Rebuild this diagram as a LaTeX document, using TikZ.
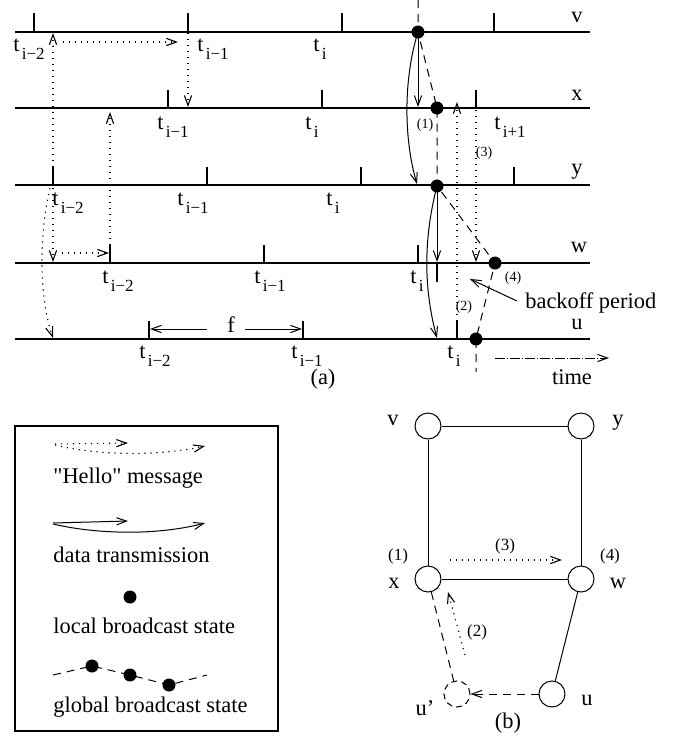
\documentclass[tikz,border=0pt]{standalone}
\usepackage{fontspec}
\setmainfont{Liberation Serif}[Ligatures=TeXOff]
\usetikzlibrary{arrows.meta}
\newcommand\tlab[1]{t\kern1.2pt\raisebox{-0.75ex}{\fontsize{8.5}{9}\selectfont #1}}
\begin{document}
\begin{tikzpicture}[x=0.5pt,y=-0.5pt,
  every node/.style={font=\fontsize{11.2}{13}\selectfont, inner sep=0pt},
  tline/.style={line width=0.6pt},
  tickln/.style={line width=0.6pt},
  tip/.style={-{Straight Barb[length=5pt,width=3.6pt]}},
  hello/.style={line width=0.55pt, dash pattern=on 0.6pt off 2.4pt, tip},
  data/.style={line width=0.5pt, tip},
  glob/.style={line width=0.5pt, dash pattern=on 4pt off 3pt},
  dot/.style={circle, fill, minimum size=6.5pt},
  small/.style={font=\fontsize{7}{8}\selectfont},
  gsmall/.style={font=\fontsize{8.5}{9}\selectfont},
  gnode/.style={circle, draw, line width=0.5pt, minimum size=13pt},
  timeln/.style={line width=0.5pt, dash pattern=on 5pt off 1pt on 0.5pt off 1pt, tip}]
\useasboundingbox (0,0) rectangle (679,741);

% time lines
\foreach \n/\yy in {v/32,x/108,y/185,w/263,u/339}{
  \coordinate (\n L) at (15,\yy);
  \coordinate (\n R) at (590,\yy);
  \draw[tline] (\n L) -- (\n R);
}
\node (lv) at (577,17) {v};
\node (lx) at (577,95) {x};
\node (ly) at (577,172) {y};
\node (lw) at (579,247) {w};
\node (lu) at (577,324) {u};

% ticks
\foreach \xx in {34,188,342,494}{\draw[tickln] (\xx,13) -- (\xx,32);}
\foreach \xx in {168,322,476}{\draw[tickln] (\xx,90) -- (\xx,108);}
\foreach \xx in {53,207,361,514}{\draw[tickln] (\xx,167) -- (\xx,185);}
\foreach \xx in {110,264,418}{\draw[tickln] (\xx,245) -- (\xx,263);}
\draw[tickln] (437,263) -- (437,282);
\foreach \xx in {149,303,457}{\draw[tickln] (\xx,321) -- (\xx,339);}

% t labels
\node (tv1) at (29,49) {\tlab{i−2}};
\node (tv2) at (213,49) {\tlab{i−1}};
\node (tv3) at (320,49) {\tlab{i}};
\node (tx1) at (173,127) {\tlab{i−1}};
\node (tx2) at (312,127) {\tlab{i}};
\node (tx3) at (510,127) {\tlab{i+1}};
\node (ty1) at (68,203) {\tlab{i−2}};
\node (ty2) at (193,203) {\tlab{i−1}};
\node (ty3) at (333,203) {\tlab{i}};
\node (tw1) at (118,281) {\tlab{i−2}};
\node (tw2) at (270,281) {\tlab{i−1}};
\node (tw3) at (417,281) {\tlab{i}};
\node (tu1) at (155,356) {\tlab{i−2}};
\node (tu2) at (307,356) {\tlab{i−1}};
\node (tu3) at (454,356) {\tlab{i}};

% broadcast state dots
\node[dot] (vdot) at (418,32) {};
\node[dot] (xdot) at (437,108) {};
\node[dot] (ydot) at (437,186) {};
\node[dot] (wdot) at (495,263) {};
\node[dot] (udot) at (476,339) {};
\coordinate (gtop) at (418,0);
\coordinate (gbot) at (476,372);
\draw[glob] (gtop) -- (vdot.center) -- (xdot.center) -- (ydot.center) -- (wdot.center) -- (udot.center) -- (gbot);

% hello messages
\draw[hello] (53,167) -- (53,33);
\draw[hello] (63,42) -- (178,42);
\draw[hello] (188,33) -- (188,107);
\draw[hello] (110,245) -- (110,112);
\draw[hello] (53,188) -- (53,262);
\draw[hello] (62,253) -- (109,253);
\draw[hello] (50,188) .. controls (38,240) and (40,300) .. (53,338);
\draw[hello] (457,321) -- (457,102);
\draw[hello] (476,110) -- (476,262);

% data transmission
\coordinate (dvx) at (418,107);
\coordinate (dvy) at (417,184);
\coordinate (dyw) at (437,262);
\coordinate (dyu) at (437,338);
\draw[data] (vdot.center) -- (dvx);
\draw[data] (vdot.center) .. controls (403,80) and (404,140) .. (dvy);
\draw[data] (ydot.center) -- (dyw);
\draw[data] (ydot.center) .. controls (423,240) and (424,290) .. (dyu);

% small labels
\node[small] (s1) at (425,125) {(1)};
\node[small] (s3) at (484,153) {(3)};
\node[small] (s4) at (513,278) {(4)};
\node[small] (s2) at (464,307) {(2)};

% backoff
\node[anchor=west] (bo) at (525,303) {backoff period};
\coordinate (bos) at (517,301);
\coordinate (boe) at (470,279);
\draw[data] (bos) -- (boe);

% f
\coordinate (fl) at (150,329);
\coordinate (fr) at (302,329);
\node (f) at (231,325) {f};
\draw[data] (207,329) -- (fl);
\draw[data] (245,329) -- (fr);

% time
\coordinate (ts) at (495,358);
\coordinate (te) at (609,358);
\draw[timeln] (ts) -- (te);
\node (time) at (572,377) {time};
\node (capa) at (323,379) {(a)};

% legend
\draw[line width=0.6pt] (15,426) rectangle (278,731);
\draw[hello] (55,444) -- (128,443);
\draw[hello] (55,445) .. controls (100,456) and (160,456) .. (205,446);
\node[anchor=west] (lh) at (53,478) {"Hello" message};
\draw[data] (53,523) -- (128,521);
\draw[data] (53,524) .. controls (100,535) and (160,535) .. (205,523);
\node[anchor=west] (ld) at (53,555) {data transmission};
\node[dot] (ldot) at (130,597) {};
\node[anchor=west] (ll) at (53,626) {local broadcast state};
\node[dot] (g1) at (92,666) {};
\node[dot] (g2) at (130,675) {};
\node[dot] (g3) at (169,685) {};
\coordinate (gs) at (53,675);
\coordinate (ge) at (207,675);
\draw[glob] (gs) -- (g1.center) -- (g2.center) -- (g3.center) -- (ge);
\node[anchor=west] (lg) at (53,707) {global broadcast state};

% graph (b)
\node[gnode] (gv) at (428,426) {};
\node[gnode] (gy) at (581,426) {};
\node[gnode] (gx) at (428,579) {};
\node[gnode] (gw) at (581,579) {};
\node[gnode] (gu) at (552,694) {};
\node[gnode, dash pattern=on 3pt off 2pt] (gup) at (457,694) {};
\draw[line width=0.5pt] (gv) -- (gy);
\draw[line width=0.5pt] (gv) -- (gx);
\draw[line width=0.5pt] (gy) -- (gw);
\draw[line width=0.5pt] (gx) -- (gw);
\draw[line width=0.5pt] (gw) -- (gu);
\draw[glob] (gx) -- (gup);
\draw[glob, tip] (gu) -- (gup);
\coordinate (h2s) at (465,655);
\coordinate (h2e) at (448,592);
\draw[hello] (h2s) -- (h2e);
\coordinate (h3s) at (450,560);
\coordinate (h3e) at (562,560);
\draw[hello] (h3s) -- (h3e);
\node (nv) at (393,420) {v};
\node (ny) at (618,423) {y};
\node[gsmall] (n1) at (398,556) {(1)};
\node (nx) at (394,583) {x};
\node[gsmall] (n4) at (610,556) {(4)};
\node (nw) at (618,583) {w};
\node (nu) at (587,700) {u};
\node (nup) at (425,708) {u’};
\node[gsmall] (n3) at (505,546) {(3)};
\node[gsmall] (n2) at (477,632) {(2)};
\node (capb) at (508,723) {(b)};
\end{tikzpicture}
\end{document}
